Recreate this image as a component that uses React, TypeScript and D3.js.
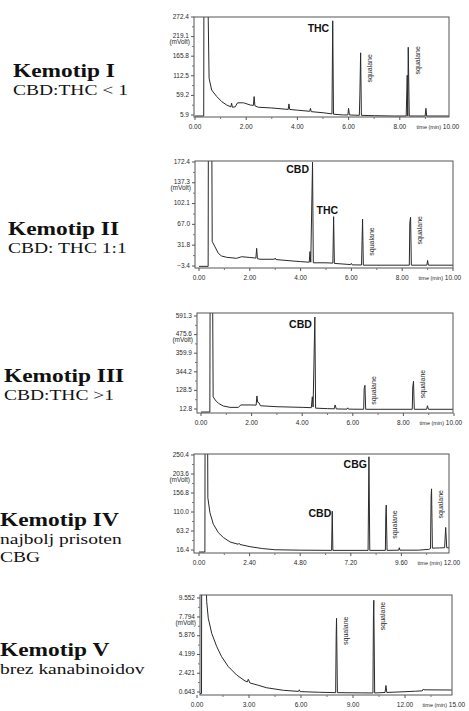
import React, { useRef, useEffect } from 'react';
import * as d3 from 'd3';

// left-hand captions
const titles = ['Kemotip I', 'Kemotip II', 'Kemotip III', 'Kemotip IV', 'Kemotip V'];
const subtitles = [['CBD:THC < 1'], ['CBD: THC 1:1'], ['CBD:THC >1'], ['najbolj prisoten', 'CBG'], ['brez kanabinoidov']];

// axis ticks
const yTicks1 = [5.9, 59.2, 112.5, 165.8, 219.1, 272.4];
const yTicks2 = [-3.4, 31.8, 67.0, 102.1, 137.3, 172.4];
const yTicks3 = [12.8, 128.5, 244.2, 359.9, 475.6, 591.3];
const yTicks4 = [16.4, 63.2, 110.0, 156.8, 203.6, 250.4];
const yTicks5 = [0.643, 2.421, 4.199, 5.977, 7.755, 9.552];
const yLabels3 = ['12.8', '128.5', '344.2', '359.9', '475.6', '591.3'];
const yLabels5 = ['0.643', '2.421', '4.199', '5.876', '7.794', '9.552'];
const xTicks1 = [0, 2, 4, 6, 8, 10];
const xTicks4 = [0, 2.4, 4.8, 7.2, 9.6, 12];
const xTicks5 = [0, 3, 6, 9, 12, 15];

// traces: [time (min), signal (mVolt)]
const trace1: [number, number][] = [
  [0, 3], [0.34, 3], [0.35, 400], [0.49, 400], [0.55, 106], [0.65, 74], [0.85, 56], [1.05, 42], [1.24, 33],
  [1.4, 28], [1.43, 38], [1.46, 27], [1.57, 28], [1.66, 39], [1.9, 39], [2.16, 33], [2.28, 32], [2.31, 56],
  [2.34, 31], [2.47, 27], [3.0, 25], [3.64, 21], [3.67, 36], [3.7, 21], [4.0, 19], [4.48, 16], [4.51, 24],
  [4.54, 15], [5.0, 12], [5.35, 9], [5.38, 262], [5.41, 8], [5.8, 6], [5.97, 6], [6.0, 24], [6.03, 6],
  [6.42, 5], [6.44, 60], [6.47, 175], [6.5, 5], [7.0, 4], [7.8, 1], [8.25, 1], [8.29, 114], [8.31, 2],
  [8.33, 190], [8.37, 2], [8.6, 3], [8.99, 3], [9.02, 24], [9.05, 3], [10, 3],
];
const trace2: [number, number][] = [
  [0, -4], [0.36, -4], [0.37, 250], [0.5, 250], [0.52, 38], [0.63, 29], [0.76, 18], [0.89, 13.5], [1.09, 11.3],
  [1.48, 9.6], [1.68, 12.3], [2.0, 11], [2.24, 10], [2.27, 26.5], [2.3, 9], [2.4, 8], [2.97, 8], [3.0, 10],
  [3.03, 7.5], [3.7, 5], [4.0, 4], [4.34, 3], [4.37, 21], [4.4, 3], [4.47, 172], [4.5, 2], [5.0, 2],
  [5.27, 1.5], [5.3, 80], [5.33, 1], [5.97, -1], [6.0, 1], [6.03, -1.5], [6.4, -1.7], [6.42, 40], [6.44, 76],
  [6.47, -2], [8.28, -2], [8.3, 70], [8.33, 79], [8.36, -2], [8.97, -2], [9.0, 6], [9.03, -2], [10, -2],
];
const trace3: [number, number][] = [
  [0, -10], [0.35, -10], [0.36, 700], [0.46, 700], [0.48, 89], [0.56, 69], [0.69, 48], [0.88, 31.5],
  [1.15, 23], [1.48, 23], [1.57, 38], [1.94, 38], [2.18, 37], [2.21, 94], [2.24, 55], [2.3, 50], [2.35, 33],
  [3.0, 27], [4.0, 23], [4.36, 21], [4.4, 89], [4.43, 25], [4.5, 585], [4.53, 18], [5.0, 15], [5.27, 14],
  [5.3, 38], [5.35, 13], [5.77, 12], [5.8, 20], [5.83, 12], [6.43, 11], [6.45, 140], [6.48, 160], [6.51, 11],
  [8.35, 11], [8.37, 150], [8.4, 185], [8.43, 11], [8.92, 11], [8.95, 33], [8.99, 11], [10, 11],
];
const trace4: [number, number][] = [
  [0, 8], [0.28, 8], [0.29, 400], [0.4, 400], [0.42, 145], [0.52, 108], [0.68, 80], [0.92, 59], [1.16, 47],
  [1.48, 36], [1.86, 30.5], [1.9, 33], [1.94, 30], [2.43, 24.5], [3.0, 20], [3.6, 17], [4.8, 16], [6.29, 15.5],
  [6.32, 112], [6.35, 15.5], [8.02, 15.5], [8.06, 246], [8.1, 15.5], [8.84, 15.5], [8.86, 100], [8.88, 127],
  [8.92, 15.5], [9.47, 16], [9.5, 22], [9.53, 16], [10.4, 16], [10.9, 18], [10.98, 20], [11.01, 150],
  [11.03, 167], [11.07, 21], [11.4, 21.5], [11.65, 22], [11.7, 72], [11.75, 22], [12, 21.5],
];
const trace5: [number, number][] = [
  [0, 0.5], [0.26, 0.5], [0.27, 12], [0.5, 12], [0.56, 9.2], [0.65, 7.63], [0.85, 6.2], [1.14, 4.94],
  [1.42, 3.99], [1.81, 3.04], [2.29, 2.25], [2.77, 1.69], [2.9, 1.6], [2.96, 1.85], [3.05, 1.5], [3.5, 1.3],
  [4.0, 1.05], [5.0, 0.8], [5.85, 0.7], [5.9, 0.85], [5.95, 0.68], [7.0, 0.62], [8.0, 0.58], [8.03, 6],
  [8.05, 7.63], [8.1, 0.58], [10.15, 0.55], [10.18, 8], [10.2, 9.34], [10.25, 0.55], [10.85, 0.6],
  [10.9, 1.26], [10.95, 0.6], [12, 0.67], [12.6, 0.72], [13.0, 0.75], [13.06, 0.93], [13.1, 0.85], [14.7, 0.83],
];

// named peaks: [name, time, signal]
const peaks1: [string, number, number][] = [['THC', 5.38, 262]];
const peaks2: [string, number, number][] = [['CBD', 4.47, 172], ['THC', 5.3, 80]];
const peaks3: [string, number, number][] = [['CBD', 4.5, 585]];
const peaks4: [string, number, number][] = [['CBD', 6.32, 112], ['CBG', 8.06, 246]];
const peaks5: [string, number, number][] = [];
// squalane markers: [time, signal at label foot]
const squalane1: [number, number][] = [[6.47, 94], [8.35, 116]];
const squalane2: [number, number][] = [[6.44, 14], [8.33, 33]];
const squalane3: [number, number][] = [[6.48, 40], [8.4, 80]];
const squalane4: [number, number][] = [[8.88, 44], [11.03, 94]];
const squalane5: [number, number][] = [[8.05, 5.1], [10.2, 6.5]];

const panels = [
  { yTicks: yTicks1, yLabels: null, xTicks: xTicks1, xMax: 10, trace: trace1, peaks: peaks1, squalane: squalane1 },
  { yTicks: yTicks2, yLabels: null, xTicks: xTicks1, xMax: 10, trace: trace2, peaks: peaks2, squalane: squalane2 },
  { yTicks: yTicks3, yLabels: yLabels3, xTicks: xTicks1, xMax: 10, trace: trace3, peaks: peaks3, squalane: squalane3 },
  { yTicks: yTicks4, yLabels: null, xTicks: xTicks4, xMax: 12, trace: trace4, peaks: peaks4, squalane: squalane4 },
  { yTicks: yTicks5, yLabels: yLabels5, xTicks: xTicks5, xMax: 15, trace: trace5, peaks: peaks5, squalane: squalane5 },
];

// pixel layout of each plot box
const layout = [
  { l: 194, r: 449, t: 17, b: 117, x0: 195, x1: 451, y0: 115, y1: 17, ty: 77 },
  { l: 195, r: 453, t: 161, b: 268, x0: 199, x1: 453, y0: 266, y1: 162, ty: 235 },
  { l: 197, r: 453, t: 313, b: 413, x0: 201, x1: 454, y0: 409, y1: 316, ty: 382 },
  { l: 194, r: 449, t: 454, b: 553, x0: 199, x1: 452, y0: 550, y1: 455, ty: 526 },
  { l: 200, r: 452, t: 595, b: 695, x0: 197, x1: 457, y0: 692, y1: 598, ty: 656 },
];
const titleX = [13, 8, 4, 0, 0];
// where each peak name sits relative to its apex (text end point)
const peakOffsets = [[[-3.5, 11]], [[-3.5, 10.5], [4.5, -2.7]], [[-3, 11]], [[-1, 6], [-2, 11]], []];

export default function App() {
  const svgRef = useRef<SVGSVGElement>(null);

  useEffect(() => {
    if (!svgRef.current) return;
    const W = 469, H = 711;
    d3.select(svgRef.current).selectAll('*').remove();
    const svg = d3.select(svgRef.current).attr('width', W).attr('height', H);
    svg.append('rect').attr('width', W).attr('height', H).attr('fill', '#fff');
    const ink = '#2a2a2a';
    const sans = 'Liberation Sans, Arial, sans-serif';
    const serif = 'Liberation Serif, Times New Roman, serif';

    panels.forEach((p, i) => {
      const L = layout[i];
      const x = d3.scaleLinear().domain([0, p.xMax]).range([L.x0, L.x1]);
      const y = d3.scaleLinear().domain([p.yTicks[0], p.yTicks[5]]).range([L.y0, L.y1]);
      const g = svg.append('g');

      // caption on the left (the source scan is stretched sideways)
      g.append('text').attr('transform', `translate(${titleX[i]},${L.ty}) scale(1.3,1)`)
        .attr('font-family', serif).attr('font-size', 18).attr('font-weight', 'bold').attr('fill', '#111').text(titles[i]);
      subtitles[i].forEach((s, k) => {
        g.append('text').attr('transform', `translate(${titleX[i]},${L.ty + 18 + k * 18}) scale(1.3,1)`)
          .attr('font-family', serif).attr('font-size', 15).attr('fill', '#111').text(s);
      });

      const clipId = `clip${i}`;
      g.append('clipPath').attr('id', clipId).append('rect')
        .attr('x', L.l).attr('y', L.t).attr('width', L.r - L.l).attr('height', L.b - L.t);

      // trace
      const line = d3.line<[number, number]>().x((d) => x(d[0])).y((d) => Math.min(L.b - 1, y(d[1])));
      g.append('path').attr('d', line(p.trace)).attr('fill', 'none').attr('stroke', ink)
        .attr('stroke-width', 1).attr('clip-path', `url(#${clipId})`);

      // box
      g.append('rect').attr('x', L.l).attr('y', L.t).attr('width', L.r - L.l).attr('height', L.b - L.t)
        .attr('fill', 'none').attr('stroke', '#555').attr('stroke-width', 1);

      // y ticks (major + midpoints)
      const yStep = p.yTicks[1] - p.yTicks[0];
      p.yTicks.forEach((v, k) => {
        g.append('line').attr('x1', L.l - 3).attr('x2', L.l).attr('y1', y(v)).attr('y2', y(v)).attr('stroke', '#555');
        if (k > 0) {
          const m = v - yStep / 2;
          g.append('line').attr('x1', L.l - 2).attr('x2', L.l).attr('y1', y(m)).attr('y2', y(m)).attr('stroke', '#777');
        }
        g.append('text').attr('x', L.l - 5).attr('y', y(v)).attr('text-anchor', 'end').attr('dominant-baseline', 'middle')
          .attr('font-family', sans).attr('font-size', 6.5).attr('fill', ink)
          .text(p.yLabels ? p.yLabels[k] : d3.format('.1f')(v));
      });
      g.append('text').attr('x', L.l - 4).attr('y', y(p.yTicks[4]) + 6).attr('text-anchor', 'end')
        .attr('dominant-baseline', 'middle').attr('font-family', sans).attr('font-size', 6.5).attr('fill', ink).text('(mVolt)');

      // x ticks
      const xStep = p.xTicks[1] - p.xTicks[0];
      p.xTicks.forEach((v, k) => {
        if (x(v) <= L.r + 1) {
          g.append('line').attr('x1', x(v)).attr('x2', x(v)).attr('y1', L.b).attr('y2', L.b + 3).attr('stroke', '#555');
        }
        if (k > 0) {
          const m = v - xStep / 2;
          g.append('line').attr('x1', x(m)).attr('x2', x(m)).attr('y1', L.b).attr('y2', L.b + 2).attr('stroke', '#777');
        }
        g.append('text').attr('x', x(v)).attr('y', L.b + 10).attr('text-anchor', 'middle').attr('dominant-baseline', 'middle')
          .attr('font-family', sans).attr('font-size', 6.5).attr('fill', ink).text(d3.format('.2f')(v));
      });
      g.append('text').attr('x', x(p.xTicks[5]) - 10).attr('y', L.b + 11).attr('text-anchor', 'end')
        .attr('dominant-baseline', 'middle').attr('font-family', sans).attr('font-size', 5.5).attr('fill', ink).text('time (min)');

      // named peaks
      p.peaks.forEach(([name, t, v], k) => {
        const [dx, dy] = peakOffsets[i][k];
        g.append('text').attr('x', x(t) + dx).attr('y', y(v) + dy).attr('text-anchor', 'end')
          .attr('font-family', sans).attr('font-weight', 'bold').attr('font-size', 10.5).attr('fill', '#111').text(name);
      });
      // squalane markers, rotated
      p.squalane.forEach(([t, v]) => {
        const px = x(t) + 11, py = y(v);
        g.append('text').attr('transform', `translate(${px},${py}) rotate(-90)`).attr('font-family', sans)
          .attr('font-size', 7).attr('fill', ink).text('squalane');
      });
    });
  }, []);

  return (
    <div style={{ position: 'absolute', left: 0, top: 0 }}>
      <svg ref={svgRef} />
    </div>
  );
}
